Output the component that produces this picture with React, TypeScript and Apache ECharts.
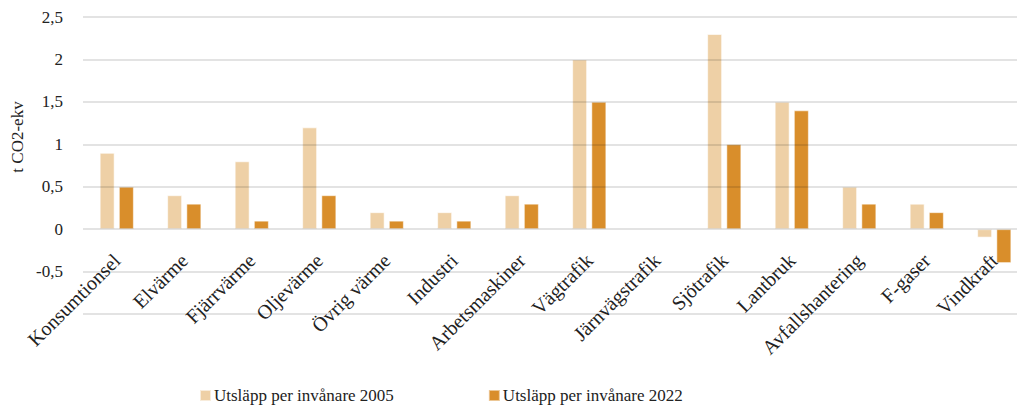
import React, { useEffect, useRef } from "react";
import * as echarts from "echarts";

const categories = [
  "Konsumtionsel",
  "Elvärme",
  "Fjärrvärme",
  "Oljevärme",
  "Övrig värme",
  "Industri",
  "Arbetsmaskiner",
  "Vägtrafik",
  "Järnvägstrafik",
  "Sjötrafik",
  "Lantbruk",
  "Avfallshantering",
  "F-gaser",
  "Vindkraft",
];
const series2005 = [0.9, 0.4, 0.8, 1.2, 0.2, 0.2, 0.4, 2.0, 0, 2.3, 1.5, 0.5, 0.3, -0.1];
const series2022 = [0.5, 0.3, 0.1, 0.4, 0.1, 0.1, 0.3, 1.5, 0, 1.0, 1.4, 0.3, 0.2, -0.4];
const seriesNames = ["Utsläpp per invånare 2005", "Utsläpp per invånare 2022"];
const yAxisTitle = "t CO2-ekv";

const FONT = "Liberation Serif";

export default function App() {
  const ref = useRef<HTMLDivElement>(null);
  useEffect(() => {
    if (!ref.current) return;
    const chart = echarts.init(ref.current, null, { renderer: "svg" });
    chart.setOption({
      animation: false,
      textStyle: { fontFamily: FONT },
      grid: {
        left: 83,
        top: 17,
        width: 945,
        height: 297,
        containLabel: false,
        outerBoundsMode: "none",
      },
      legend: {
        left: 194,
        top: 382,
        itemWidth: 11,
        itemHeight: 11,
        itemGap: 94,
        icon: "rect",
        textStyle: { fontFamily: FONT, fontSize: 17, color: "#222", padding: [0, 0, 0, -2] },
        data: seriesNames,
      },
      xAxis: {
        type: "category",
        position: "bottom",
        data: categories,
        axisLine: { show: false, onZero: false },
        axisTick: { show: false },
        axisLabel: {
          rotate: 45,
          interval: 0,
          margin: -57,
          fontFamily: FONT,
          fontSize: 20,
          color: "#222",
        },
      },
      yAxis: {
        type: "value",
        min: -1,
        max: 2.5,
        interval: 0.5,
        z: 5,
        axisLine: { show: false },
        axisTick: { show: false },
        splitLine: { lineStyle: { color: "rgba(0,0,0,0.15)", width: 1.5 } },
        axisLabel: {
          margin: 20,
          fontFamily: FONT,
          fontSize: 17,
          color: "#222",
          formatter: (v: number) => (v === -1 ? "" : String(v).replace(".", ",")),
        },
      },
      graphic: [
        {
          type: "text",
          x: 17,
          y: 137,
          rotation: Math.PI / 2,
          style: {
            text: yAxisTitle,
            fontFamily: FONT,
            fontSize: 17,
            fill: "#222",
            align: "center",
            verticalAlign: "middle",
          },
        },
      ],
      series: [
        {
          name: seriesNames[0],
          type: "bar",
          data: series2005,
          barWidth: 15,
          barGap: "28%",
          itemStyle: { color: "#EED0A6", borderColor: "rgba(255,255,255,0.6)", borderWidth: 1 },
        },
        {
          name: seriesNames[1],
          type: "bar",
          data: series2022,
          barWidth: 15,
          barGap: "28%",
          itemStyle: { color: "#D98E2B", borderColor: "rgba(255,255,255,0.5)", borderWidth: 1 },
        },
      ],
    });
    return () => chart.dispose();
  }, []);
  return (
    <div
      ref={ref}
      style={{ position: "fixed", left: 0, top: 0, width: 1017, height: 405, background: "#fff" }}
    />
  );
}
